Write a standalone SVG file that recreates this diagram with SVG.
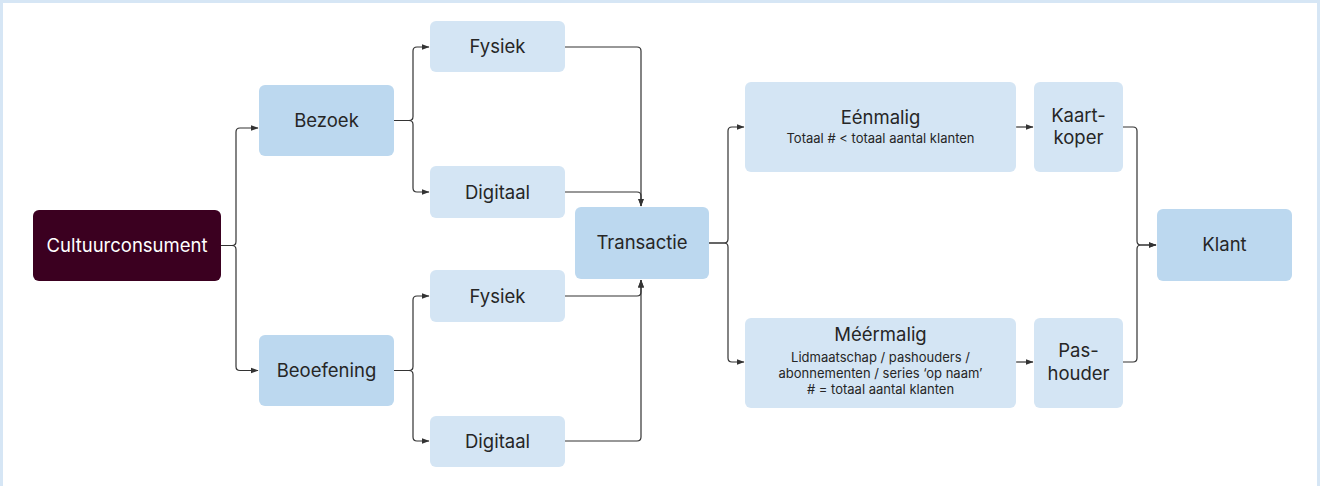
<svg xmlns="http://www.w3.org/2000/svg" width="1320" height="486" viewBox="0 0 1320 486">
  <defs>
    <marker id="arrow" viewBox="0 0 8 8" refX="7.5" refY="4" markerWidth="8" markerHeight="8" markerUnits="userSpaceOnUse" orient="auto">
      <path d="M0,1 L8,4 L0,7 Z" fill="#333"/>
    </marker>
    <style>
      .frame { fill: #d6e6f5; }
      .page { fill: #ffffff; }
      .dark { fill: #3b0020; }
      .mid { fill: #bcd8ef; }
      .light { fill: #d4e5f4; }
      .lbl { font-family: Inter, "Noto Sans", "Liberation Sans", sans-serif; font-size: 18.5px; fill: #262626; text-anchor: middle; }
      .lbl.inv { fill: #ffffff; }
      .sub { font-family: Inter, "Noto Sans", "Liberation Sans", sans-serif; font-size: 13px; fill: #262626; text-anchor: middle; }
      .wire { fill: none; stroke: #333; stroke-width: 1.2; }
    </style>
  </defs>

  <!-- page background with thin frame -->
  <rect class="frame" x="0" y="0" width="1320" height="486"/>
  <rect class="page" x="3" y="3" width="1314" height="483"/>

  <!-- connectors -->
  <g id="connectors">
    <!-- Cultuurconsument fork -->
    <path class="wire" d="M221,245.5 H232 q4,0 4,-4 V132 q0,-4 4,-4 H258" marker-end="url(#arrow)"/>
    <path class="wire" d="M221,245.5 H232 q4,0 4,4 V366.5 q0,4 4,4 H258" marker-end="url(#arrow)"/>
    <!-- Bezoek fork -->
    <path class="wire" d="M394,120.5 H409 q4,0 4,-4 V51 q0,-4 4,-4 H429" marker-end="url(#arrow)"/>
    <path class="wire" d="M394,120.5 H409 q4,0 4,4 V188 q0,4 4,4 H429" marker-end="url(#arrow)"/>
    <!-- Beoefening fork -->
    <path class="wire" d="M394,370.5 H409 q4,0 4,-4 V300 q0,-4 4,-4 H429" marker-end="url(#arrow)"/>
    <path class="wire" d="M394,370.5 H409 q4,0 4,4 V437 q0,4 4,4 H429" marker-end="url(#arrow)"/>
    <!-- into Transactie from above -->
    <path class="wire" d="M565,47 H637 q4,0 4,4 V206" marker-end="url(#arrow)"/>
    <path class="wire" d="M565,192 H637 q4,0 4,4 V206" marker-end="url(#arrow)"/>
    <!-- into Transactie from below -->
    <path class="wire" d="M565,296 H637 q4,0 4,-4 V280" marker-end="url(#arrow)"/>
    <path class="wire" d="M565,441 H637 q4,0 4,-4 V280" marker-end="url(#arrow)"/>
    <!-- Transactie fork -->
    <path class="wire" d="M709,243 H724 q4,0 4,-4 V131 q0,-4 4,-4 H744" marker-end="url(#arrow)"/>
    <path class="wire" d="M709,243 H724 q4,0 4,4 V358 q0,4 4,4 H744" marker-end="url(#arrow)"/>
    <!-- to buyer types -->
    <path class="wire" d="M1016,127 H1033" marker-end="url(#arrow)"/>
    <path class="wire" d="M1016,362 H1033" marker-end="url(#arrow)"/>
    <!-- merge into Klant -->
    <path class="wire" d="M1123,127 H1133 q4,0 4,4 V241 q0,4 4,4 H1156" marker-end="url(#arrow)"/>
    <path class="wire" d="M1123,362 H1133 q4,0 4,-4 V249 q0,-4 4,-4 H1156" marker-end="url(#arrow)"/>
  </g>

  <!-- nodes -->
  <g id="cultuurconsument">
    <rect class="dark" x="33" y="210" width="188" height="71" rx="6"/>
    <text class="lbl inv" x="127" y="251.5">Cultuurconsument</text>
  </g>

  <g id="bezoek">
    <rect class="mid" x="259" y="85" width="135" height="71" rx="6"/>
    <text class="lbl" x="326.5" y="126.5">Bezoek</text>
  </g>

  <g id="beoefening">
    <rect class="mid" x="259" y="335" width="135" height="71" rx="6"/>
    <text class="lbl" x="326.5" y="376.5">Beoefening</text>
  </g>

  <g id="fysiek-bezoek">
    <rect class="light" x="430" y="21" width="135" height="51" rx="6"/>
    <text class="lbl" x="497.5" y="53">Fysiek</text>
  </g>

  <g id="digitaal-bezoek">
    <rect class="light" x="430" y="166" width="135" height="52" rx="6"/>
    <text class="lbl" x="497.5" y="198.5">Digitaal</text>
  </g>

  <g id="fysiek-beoefening">
    <rect class="light" x="430" y="270" width="135" height="52" rx="6"/>
    <text class="lbl" x="497.5" y="302.5">Fysiek</text>
  </g>

  <g id="digitaal-beoefening">
    <rect class="light" x="430" y="416" width="135" height="51" rx="6"/>
    <text class="lbl" x="497.5" y="448">Digitaal</text>
  </g>

  <g id="transactie">
    <rect class="mid" x="575" y="207" width="134" height="72" rx="6"/>
    <text class="lbl" x="642" y="249">Transactie</text>
  </g>

  <g id="eenmalig">
    <rect class="light" x="745" y="82" width="271" height="90" rx="6"/>
    <text class="lbl" x="880.5" y="123.5">Eénmalig</text>
    <text class="sub" x="880.5" y="143">Totaal # &lt; totaal aantal klanten</text>
  </g>

  <g id="kaartkoper">
    <rect class="light" x="1034" y="82" width="89" height="90" rx="6"/>
    <text class="lbl" x="1078.5" y="121.5">Kaart-</text>
    <text class="lbl" x="1078.5" y="144">koper</text>
  </g>

  <g id="meermalig">
    <rect class="light" x="745" y="318" width="271" height="90" rx="6"/>
    <text class="lbl" x="880.5" y="341">Méérmalig</text>
    <text class="sub" x="880.5" y="362">Lidmaatschap / pashouders /</text>
    <text class="sub" x="880.5" y="378">abonnementen / series ‘op naam’</text>
    <text class="sub" x="880.5" y="394"># = totaal aantal klanten</text>
  </g>

  <g id="pashouder">
    <rect class="light" x="1034" y="318" width="89" height="90" rx="6"/>
    <text class="lbl" x="1078.5" y="357">Pas-</text>
    <text class="lbl" x="1078.5" y="380">houder</text>
  </g>

  <g id="klant">
    <rect class="mid" x="1157" y="209" width="135" height="72" rx="6"/>
    <text class="lbl" x="1224.5" y="251">Klant</text>
  </g>
</svg>
